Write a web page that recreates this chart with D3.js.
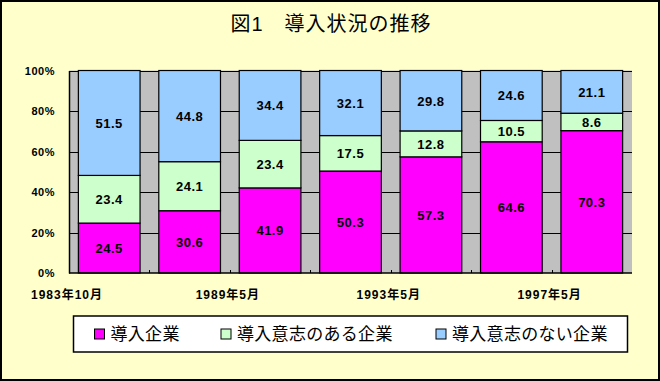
<!DOCTYPE html>
<html>
<head>
<meta charset="utf-8">
<script src="https://cdn.jsdelivr.net/npm/d3@7"></script>
<style>
  body { margin: 0; background: #fff; }
  svg { display: block; }
  text { font-family: "Liberation Sans", "Noto Sans CJK JP", sans-serif; }
</style>
</head>
<body>
<svg id="chart" width="660" height="381"></svg>
<script>
// values
var categories = ["1983年10月", "1986年", "1989年5月", "1991年", "1993年5月", "1995年", "1997年5月"];
var shownLabels = ["1983年10月", "1989年5月", "1993年5月", "1997年5月"];
var seriesNames = ["導入企業", "導入意志のある企業", "導入意志のない企業"];
var seriesColors = ["#FF00FF", "#CCFFCC", "#99CCFF"];
var introduced = [24.5, 30.6, 41.9, 50.3, 57.3, 64.6, 70.3];
var willing = [23.4, 24.1, 23.4, 17.5, 12.8, 10.5, 8.6];
var notWilling = [51.5, 44.8, 34.4, 32.1, 29.8, 24.6, 21.1];
var yTicks = [0, 0.2, 0.4, 0.6, 0.8, 1];

var svg = d3.select("#chart");
var W = 660, H = 381;

// background with black frame
svg.append("rect")
  .attr("x", 1).attr("y", 1)
  .attr("width", W - 2).attr("height", H - 2)
  .attr("fill", "#FFFFCC")
  .attr("stroke", "#000")
  .attr("stroke-width", 2);

svg.append("text")
  .attr("x", 331).attr("y", 31)
  .attr("text-anchor", "middle")
  .attr("font-family", "Noto Sans CJK JP")
  .attr("font-size", 20)
  .attr("letter-spacing", 1)
  .text("図1　導入状況の推移");

var plot = { left: 69, right: 632, top: 70.5, bottom: 273 };

var rows = categories.map(function(c, i) {
  return { cat: c, s0: introduced[i], s1: willing[i], s2: notWilling[i] };
});

var stack = d3.stack()
  .keys(["s0", "s1", "s2"])
  .offset(d3.stackOffsetExpand);
var layers = stack(rows);

var x = d3.scaleBand()
  .domain(categories)
  .range([plot.left, plot.right])
  .paddingInner(0.233)
  .paddingOuter(0.1165);

// boundaries between categories (ticks and labels sit on them)
var xEdge = d3.scaleLinear()
  .domain([0, categories.length])
  .range([plot.left, plot.right]);

var y = d3.scaleLinear()
  .domain([0, 1])
  .range([plot.bottom, plot.top]);

// plot area
svg.append("rect")
  .attr("x", plot.left).attr("y", plot.top)
  .attr("width", plot.right - plot.left)
  .attr("height", plot.bottom - plot.top)
  .attr("fill", "#C0C0C0");

// gridlines
svg.append("g").selectAll("line")
  .data(yTicks.slice(1))
  .enter().append("line")
  .attr("x1", plot.left).attr("x2", plot.right)
  .attr("y1", function(d) { return Math.round(y(d)) + 0.5; })
  .attr("y2", function(d) { return Math.round(y(d)) + 0.5; })
  .attr("stroke", "#000")
  .attr("stroke-width", 1);

// bars
var groups = svg.append("g").selectAll("g")
  .data(layers)
  .enter().append("g")
  .attr("fill", function(d, i) { return seriesColors[i]; });

groups.selectAll("rect")
  .data(function(d) { return d; })
  .enter().append("rect")
  .attr("x", function(d) { return x(d.data.cat); })
  .attr("y", function(d) { return y(d[1]); })
  .attr("width", x.bandwidth())
  .attr("height", function(d) { return y(d[0]) - y(d[1]); })
  .attr("stroke", "#000")
  .attr("stroke-width", 1.2);

// value labels
var seriesValues = [introduced, willing, notWilling];
layers.forEach(function(layer, k) {
  svg.append("g").selectAll("text")
    .data(layer)
    .enter().append("text")
    .attr("x", function(d) { return x(d.data.cat) + x.bandwidth() / 2; })
    .attr("y", function(d) { return (y(d[0]) + y(d[1])) / 2 + 5; })
    .attr("text-anchor", "middle")
    .attr("font-size", 13)
    .attr("font-weight", "bold")
    .attr("letter-spacing", 0.5)
    .text(function(d, i) { return seriesValues[k][i].toFixed(1); });
});

// axes
var yAxis = d3.axisLeft(y)
  .tickValues(yTicks)
  .tickSize(0)
  .tickPadding(14)
  .tickFormat(d3.format(".0%"));
var yGroup = svg.append("g")
  .attr("transform", "translate(" + plot.left + ",0)")
  .call(yAxis);
yGroup.select(".domain").attr("stroke", "#000").attr("stroke-width", 1.5);
yGroup.selectAll("text")
  .attr("font-size", 11)
  .attr("font-weight", "bold")
  .attr("font-family", "Liberation Sans")
  .attr("letter-spacing", 0.5);

svg.append("line")
  .attr("x1", plot.left).attr("x2", plot.right)
  .attr("y1", plot.bottom).attr("y2", plot.bottom)
  .attr("stroke", "#000").attr("stroke-width", 1.5);

// inside tick marks at category boundaries
svg.append("g").selectAll("line")
  .data(d3.range(1, categories.length))
  .enter().append("line")
  .attr("x1", function(d) { return Math.round(xEdge(d)) + 0.5; })
  .attr("x2", function(d) { return Math.round(xEdge(d)) + 0.5; })
  .attr("y1", plot.bottom - 3).attr("y2", plot.bottom)
  .attr("stroke", "#000");

// category labels every other boundary
svg.append("g").selectAll("text")
  .data(shownLabels)
  .enter().append("text")
  .attr("x", function(d, i) { return xEdge(i * 2) - 2; })
  .attr("y", 299)
  .attr("text-anchor", "middle")
  .attr("font-size", 12)
  .attr("font-weight", "bold")
  .attr("letter-spacing", 1)
  .text(function(d) { return d; });

// legend
var legend = svg.append("g");
legend.append("rect")
  .attr("x", 73.5).attr("y", 316)
  .attr("width", 554).attr("height", 36)
  .attr("fill", "#fff")
  .attr("stroke", "#000")
  .attr("stroke-width", 1.5);

var legendX = [94.5, 221, 436];
var items = legend.selectAll("g.item")
  .data(seriesNames)
  .enter().append("g")
  .attr("class", "item")
  .attr("transform", function(d, i) { return "translate(" + legendX[i] + ",0)"; });

items.append("rect")
  .attr("x", 0).attr("y", 329)
  .attr("width", 10).attr("height", 10)
  .attr("fill", function(d, i) { return seriesColors[i]; })
  .attr("stroke", "#000");

items.append("text")
  .attr("x", 16).attr("y", 340)
  .attr("font-family", "Noto Sans CJK JP")
  .attr("font-size", 17)
  .attr("letter-spacing", 0.3)
  .text(function(d) { return d; });
</script>
</body>
</html>
